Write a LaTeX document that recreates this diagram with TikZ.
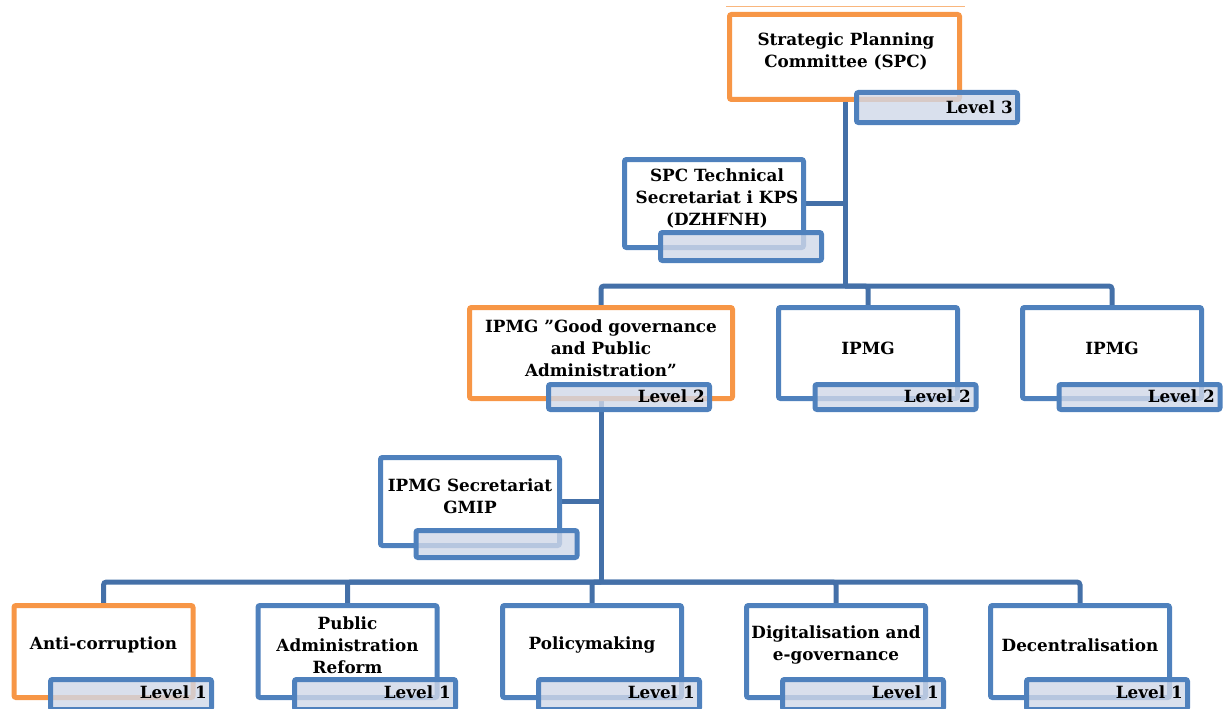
\documentclass[tikz,border=0pt]{standalone}
\usepackage{fontspec}
\setmainfont{DejaVu Serif}
\usetikzlibrary{backgrounds}
\definecolor{orng}{HTML}{F79646}
\definecolor{bbox}{HTML}{4F81BD}
\definecolor{connc}{HTML}{4470A8}
\definecolor{tabfill}{HTML}{D0D8E8}
\begin{document}
\begin{tikzpicture}[x=1pt,y=-1pt,
  bluebox/.style={draw=bbox,line width=5pt,fill=white,rounded corners=2pt,inner sep=0pt,minimum width=179pt},
  orangebox/.style={bluebox,draw=orng},
  tabbox/.style={draw=bbox,line width=5pt,fill=tabfill,fill opacity=0.8,rounded corners=2pt,inner sep=0pt,minimum width=161pt},
  txt/.style={font=\fontsize{16.8}{22}\selectfont\bfseries,align=center,inner sep=0pt},
  lvl/.style={font=\fontsize{16.8}{18}\selectfont\bfseries,inner sep=0pt,anchor=east},
  conn/.style={draw=connc,line width=5pt,rounded corners=3pt}]
\useasboundingbox (0,0) rectangle (1227,709);

% top level
\coordinate (tl1) at (726,7);
\coordinate (tl2) at (965,7);
\draw[orng!70,line width=1pt] (tl1) -- (tl2);
\node[orangebox,minimum width=230pt,minimum height=85pt] (spc) at (844.5,57) {};
\node[txt] (spct) at (846,51) {Strategic Planning\\Committee (SPC)};
\node[tabbox,minimum height=30pt] (spctab) at (937,107.5) {};
\node[lvl] (spclvl) at (1013,107) {Level 3};

\node[bluebox,minimum height=88pt] (tech) at (714,203.5) {};
\node[txt] (techt) at (717,198) {SPC Technical\\Secretariat i KPS\\(DZHFNH)};
\node[tabbox,minimum height=28pt] (techtab) at (741,246.5) {};

% level 2
\node[orangebox,minimum width=263pt,minimum height=91pt] (gg) at (601,353) {};
\node[txt] (ggt) at (601,348) {IPMG \symbol{34}Good governance\\and Public\\Administration\symbol{34}};
\node[tabbox,minimum height=25pt] (ggtab) at (629,397) {};
\node[lvl] (gglvl) at (705,396) {Level 2};

\node[bluebox,minimum height=91pt] (ip2) at (868,353) {};
\node[txt] (ip2t) at (868,348) {IPMG};
\node[tabbox,minimum height=25pt] (ip2tab) at (895.5,397) {};
\node[lvl] (ip2lvl) at (971,396) {Level 2};

\node[bluebox,minimum height=91pt] (ip3) at (1112,353) {};
\node[txt] (ip3t) at (1112,348) {IPMG};
\node[tabbox,minimum height=25pt] (ip3tab) at (1139.5,397) {};
\node[lvl] (ip3lvl) at (1215,396) {Level 2};

\node[bluebox,minimum height=88pt] (sec) at (470,501.5) {};
\node[txt] (sect) at (470,496) {IPMG Secretariat\\GMIP};
\node[tabbox,minimum height=27pt] (sectab) at (496.5,544) {};

% level 1
\node[orangebox,minimum height=92pt] (a1) at (103.5,651.5) {};
\node[txt] (a1t) at (103.5,645) {Anti-corruption};
\node[tabbox,minimum height=30pt] (a1tab) at (131,694.5) {};
\node[lvl] (a1lvl) at (207,692) {Level 1};

\node[bluebox,minimum height=92pt] (a2) at (347.5,651.5) {};
\node[txt] (a2t) at (347.5,645) {Public\\Administration\\Reform};
\node[tabbox,minimum height=30pt] (a2tab) at (375,694.5) {};
\node[lvl] (a2lvl) at (451,692) {Level 1};

\node[bluebox,minimum height=92pt] (a3) at (592,651.5) {};
\node[txt] (a3t) at (592,645) {Policymaking};
\node[tabbox,minimum height=30pt] (a3tab) at (619,694.5) {};
\node[lvl] (a3lvl) at (695,692) {Level 1};

\node[bluebox,minimum height=92pt] (a4) at (836,651.5) {};
\node[txt] (a4t) at (836,645) {Digitalisation and\\e-governance};
\node[tabbox,minimum height=30pt] (a4tab) at (863,694.5) {};
\node[lvl] (a4lvl) at (939,692) {Level 1};

\node[bluebox,minimum height=92pt] (a5) at (1080,651.5) {};
\node[txt] (a5t) at (1080,645) {Decentralisation};
\node[tabbox,minimum height=30pt] (a5tab) at (1107,694.5) {};
\node[lvl] (a5lvl) at (1183,692) {Level 1};

% connectors
\coordinate (j1) at (845,286);
\coordinate (j2) at (601,582);
\begin{scope}[on background layer]
\draw[conn] (spc.south -| j1) -- (j1);
\draw[conn] (tech.east) -- (tech.east -| j1);
\draw[conn] (gg.north) |- (j1) -| (ip3.north);
\draw[conn] (j1) -| (ip2.north);
\draw[conn] (gg.south) -- (j2);
\draw[conn] (sec.east) -- (sec.east -| j2);
\draw[conn] (a1.north) |- (j2) -| (a5.north);
\draw[conn] (j2) -| (a2.north);
\draw[conn] (j2) -| (a3.north);
\draw[conn] (j2) -| (a4.north);
\end{scope}
\end{tikzpicture}
\end{document}
